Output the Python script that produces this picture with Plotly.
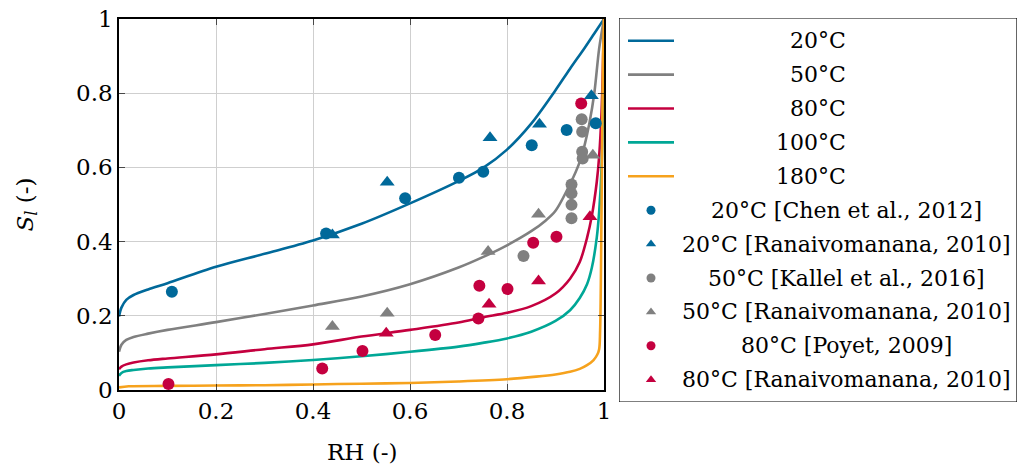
import plotly.graph_objects as go

W, H = 1020, 466
FONT = "DejaVu Serif"
FS = 23          # tick labels and axis titles
FS_LEG = 22      # legend labels

# ---- model isotherms: liquid saturation S_l versus relative humidity RH ----
rh_20 = [0, 0.005, 0.015, 0.03, 0.06, 0.1, 0.2, 0.3, 0.4, 0.5, 0.6, 0.7, 0.75,
         0.8, 0.85, 0.9, 0.93, 0.96, 0.98, 1.0]
sl_20 = [0.198, 0.222, 0.243, 0.256, 0.271, 0.288, 0.332, 0.367, 0.403, 0.448,
         0.503, 0.563, 0.598, 0.648, 0.718, 0.808, 0.866, 0.922, 0.961, 1.0]

rh_50 = [0, 0.005, 0.015, 0.03, 0.06, 0.1, 0.2, 0.3, 0.4, 0.5, 0.6, 0.7, 0.75,
         0.8, 0.85, 0.88, 0.9, 0.93, 0.95, 0.96, 0.97, 0.98, 0.99, 1.0]
sl_50 = [0.103, 0.122, 0.135, 0.143, 0.152, 0.162, 0.183, 0.205, 0.228, 0.252,
         0.285, 0.330, 0.358, 0.390, 0.428, 0.457, 0.483, 0.555, 0.615, 0.660,
         0.720, 0.800, 0.920, 1.0]

rh_80 = [0, 0.005, 0.015, 0.03, 0.06, 0.1, 0.2, 0.3, 0.4, 0.5, 0.6, 0.7, 0.75,
         0.8, 0.85, 0.9, 0.93, 0.95, 0.965, 0.975, 0.985, 0.99, 0.995, 1.0]
sl_80 = [0.056, 0.063, 0.069, 0.074, 0.080, 0.085, 0.096, 0.110, 0.123, 0.144,
         0.162, 0.182, 0.196, 0.208, 0.226, 0.260, 0.300, 0.345, 0.410, 0.470,
         0.560, 0.630, 0.750, 1.0]

rh_100 = [0, 0.005, 0.015, 0.03, 0.06, 0.1, 0.2, 0.3, 0.4, 0.5, 0.6, 0.7, 0.75,
          0.8, 0.85, 0.9, 0.93, 0.95, 0.965, 0.975, 0.985, 0.99, 0.995, 1.0]
sl_100 = [0.038, 0.046, 0.051, 0.054, 0.058, 0.061, 0.067, 0.073, 0.081, 0.091,
          0.103, 0.117, 0.127, 0.139, 0.157, 0.186, 0.215, 0.248, 0.285, 0.330,
          0.410, 0.480, 0.600, 1.0]

rh_180 = [0, 0.02, 0.1, 0.2, 0.3, 0.4, 0.5, 0.6, 0.7, 0.8, 0.86, 0.9, 0.93, 0.95,
          0.965, 0.978, 0.986, 0.99, 0.992, 0.995, 0.998, 1.0]
sl_180 = [0.007, 0.010, 0.011, 0.012, 0.013, 0.015, 0.017, 0.019, 0.023, 0.029,
          0.036, 0.042, 0.049, 0.057, 0.067, 0.080, 0.095, 0.110, 0.160, 0.500,
          0.900, 1.0]

# ---- experimental data ----
rh_chen = [0.109, 0.427, 0.590, 0.701, 0.751, 0.851, 0.923, 0.983]
sl_chen = [0.265, 0.422, 0.517, 0.572, 0.588, 0.660, 0.701, 0.719]

rh_rana20 = [0.440, 0.553, 0.765, 0.867, 0.974]
sl_rana20 = [0.418, 0.560, 0.680, 0.716, 0.793]

rh_kallel = [0.834, 0.933, 0.933, 0.933, 0.933, 0.954, 0.955, 0.955, 0.956]
sl_kallel = [0.361, 0.554, 0.530, 0.499, 0.463, 0.730, 0.696, 0.642, 0.624]

rh_rana50 = [0.440, 0.553, 0.761, 0.865, 0.977]
sl_rana50 = [0.171, 0.207, 0.373, 0.474, 0.633]

rh_poyet = [0.102, 0.419, 0.502, 0.652, 0.741, 0.743, 0.801, 0.854, 0.902, 0.953]
sl_poyet = [0.016, 0.058, 0.105, 0.148, 0.193, 0.281, 0.272, 0.397, 0.413, 0.772]

rh_rana80 = [0.551, 0.763, 0.865, 0.971]
sl_rana80 = [0.153, 0.231, 0.294, 0.467]

axis_ticks = [0, 0.2, 0.4, 0.6, 0.8, 1]
axis_ticktext = ["0", "0.2", "0.4", "0.6", "0.8", "1"]

BLUE = "#00699a"
GRAY = "#808080"
RED = "#c4003f"
TEAL = "#00a796"
ORANGE = "#f6a21d"

curves = [
    ("20°C", rh_20, sl_20, BLUE),
    ("50°C", rh_50, sl_50, GRAY),
    ("80°C", rh_80, sl_80, RED),
    ("100°C", rh_100, sl_100, TEAL),
    ("180°C", rh_180, sl_180, ORANGE),
]
points = [
    ("20°C [Chen et al., 2012]", rh_chen, sl_chen, BLUE, "circle"),
    ("20°C [Ranaivomanana, 2010]", rh_rana20, sl_rana20, BLUE, "triangle-up"),
    ("50°C [Kallel et al., 2016]", rh_kallel, sl_kallel, GRAY, "circle"),
    ("50°C [Ranaivomanana, 2010]", rh_rana50, sl_rana50, GRAY, "triangle-up"),
    ("80°C [Poyet, 2009]", rh_poyet, sl_poyet, RED, "circle"),
    ("80°C [Ranaivomanana, 2010]", rh_rana80, sl_rana80, RED, "triangle-up"),
]

fig = go.Figure()
for name, x, y, c in curves:
    fig.add_trace(go.Scatter(x=x, y=y, mode="lines", name=name,
                             line=dict(color=c, width=2.6, shape="spline",
                                       smoothing=0.9),
                             showlegend=False))
for name, x, y, c, sym in points:
    fig.add_trace(go.Scatter(x=x, y=y, mode="markers", name=name,
                             marker=dict(color=c, symbol=sym,
                                         size=12 if sym == "circle" else 13),
                             cliponaxis=False, showlegend=False))

# ---- legend box drawn on a pixel-like overlay axis ----
LX0, LX1, LY0, LY1 = 619, 1017, 18, 402
row_y0, row_dy = 40.7, 33.9
entries = [(n, c, "line") for n, _, _, c in curves] + \
          [(n, c, s) for n, _, _, c, s in points]

for i, (name, c, kind) in enumerate(entries):
    yy = row_y0 + i * row_dy
    if kind == "line":
        fig.add_trace(go.Scatter(x=[628, 674], y=[yy, yy], mode="lines",
                                 line=dict(color=c, width=2.6),
                                 xaxis="x2", yaxis="y2", showlegend=False,
                                 hoverinfo="skip"))
        fig.add_annotation(x=848, y=yy, xref="x2", yref="y2", text=name,
                           showarrow=False, xanchor="right", yanchor="middle",
                           font=dict(family=FONT, size=FS_LEG, color="black"))
    else:
        fig.add_trace(go.Scatter(x=[651], y=[yy], mode="markers",
                                 marker=dict(color=c, symbol=kind, size=9),
                                 xaxis="x2", yaxis="y2", showlegend=False,
                                 hoverinfo="skip"))
        fig.add_annotation(x=846, y=yy, xref="x2", yref="y2", text=name,
                           showarrow=False, xanchor="center", yanchor="middle",
                           font=dict(family=FONT, size=FS_LEG, color="black"))

fig.add_shape(type="rect", xref="x2", yref="y2", x0=LX0, x1=LX1, y0=LY0, y1=LY1,
              line=dict(color="black", width=1.2), fillcolor="rgba(0,0,0,0)")

# ---- axis titles ----
fig.add_annotation(x=361.5 / W, y=1 - 452 / H, xref="paper", yref="paper",
                   text="RH (-)", showarrow=False, xanchor="center",
                   yanchor="middle", font=dict(family=FONT, size=FS, color="black"))
fig.add_annotation(x=26 / W, y=1 - 204.5 / H, xref="paper", yref="paper",
                   text="<i>S</i><sub><i>l</i></sub> (-)", textangle=-90,
                   showarrow=False, xanchor="center", yanchor="middle",
                   font=dict(family=FONT, size=FS, color="black"))

axis_common = dict(
    range=[0, 1], tickvals=axis_ticks, ticktext=axis_ticktext,
    showgrid=True, gridcolor="#cfcfcf", gridwidth=1.4,
    showline=True, linecolor="black", linewidth=1.5, mirror="ticks",
    ticks="inside", ticklen=6, tickwidth=1, tickcolor="rgba(0,0,0,0.65)",
    zeroline=False, tickfont=dict(family=FONT, size=FS, color="black"),
    fixedrange=True, automargin=False,
)

fig.update_layout(
    template="none",
    width=W, height=H,
    margin=dict(l=0, r=0, t=0, b=0, autoexpand=False),
    font=dict(family=FONT, size=FS, color="black"),
    paper_bgcolor="white", plot_bgcolor="white",
    xaxis=dict(domain=[119 / W, 604 / W], anchor="y", **axis_common),
    yaxis=dict(domain=[1 - 390 / H, 1 - 19 / H], anchor="x", **axis_common),
    xaxis2=dict(domain=[LX0 / W, LX1 / W], range=[LX0, LX1], visible=False,
                anchor="y2", fixedrange=True, automargin=False),
    yaxis2=dict(domain=[1 - LY1 / H, 1 - LY0 / H], range=[LY1, LY0],
                visible=False, anchor="x2", fixedrange=True, automargin=False),
    showlegend=False,
)

fig.write_html("out.html")
